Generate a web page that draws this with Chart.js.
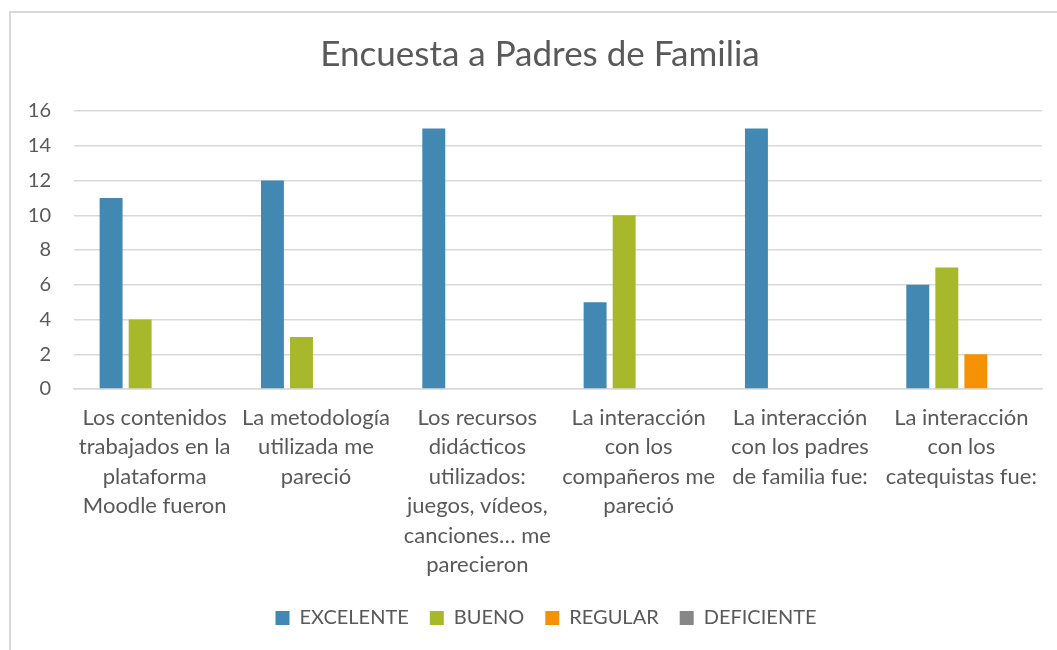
<!DOCTYPE html>
<html>
<head>
<meta charset="utf-8">
<script src="https://cdn.jsdelivr.net/npm/chart.js@4"></script>
<style>
  html, body { margin: 0; padding: 0; background: #ffffff; }
  #wrap { position: relative; width: 1057px; height: 650px; overflow: hidden; }
  #frame { position: absolute; left: 9px; top: 11px; width: 1200px; height: 800px;
           border: 2px solid #d9d9d9; box-sizing: border-box; }
  canvas { position: absolute; left: 0; top: 0; }
</style>
</head>
<body>
<div id="wrap">
  <div id="frame"></div>
  <canvas id="c" width="1057" height="650"></canvas>
</div>
<script>
const titleText = "Encuesta a Padres de Familia";
const categories = [
  ["Los contenidos", "trabajados en la", "plataforma", "Moodle fueron"],
  ["La metodología", "utilizada me", "pareció"],
  ["Los recursos", "didácticos", "utilizados:", "juegos, vídeos,", "canciones… me", "parecieron"],
  ["La interacción", "con los", "compañeros me", "pareció"],
  ["La interacción", "con los padres", "de familia fue:"],
  ["La interacción", "con los", "catequistas fue:"]
];
const seriesNames = ["EXCELENTE", "BUENO", "REGULAR", "DEFICIENTE"];
const excelente = [11, 12, 15, 5, 15, 6];
const bueno = [4, 3, 0, 10, 0, 7];
const regular = [0, 0, 0, 0, 0, 2];
const deficiente = [0, 0, 0, 0, 0, 0];
const yTicks = [0, 2, 4, 6, 8, 10, 12, 14, 16];

const colors = ["#4189B3", "#A7B82A", "#F59203", "#878787"];
const seriesValues = [excelente, bueno, regular, deficiente];
const FONT = "Lato";
const TEXT = "#595959";

// shifts the title and legend boxes sideways (the reference centres them a bit right)
const shiftBoxes = {
  id: "shiftBoxes",
  afterLayout(chart) {
    if (chart.titleBlock) { chart.titleBlock.left += 19; chart.titleBlock.right += 19; }
    if (chart.legend) { chart.legend.left += 25; chart.legend.right += 25; }
  }
};

new Chart(document.getElementById("c"), {
  type: "bar",
  data: {
    labels: categories,
    datasets: seriesNames.map((n, i) => ({
      label: n,
      data: seriesValues[i],
      backgroundColor: colors[i],
      borderWidth: 0,
      categoryPercentage: 0.72,
      barPercentage: 0.79
    }))
  },
  plugins: [shiftBoxes],
  options: {
    responsive: false,
    animation: false,
    layout: { padding: { left: 0, right: 15, top: 0, bottom: 12 } },
    plugins: {
      title: {
        display: true,
        text: titleText,
        color: TEXT,
        font: { family: FONT, size: 35, weight: "normal", lineHeight: 1.2 },
        padding: { top: 34, bottom: 35 }
      },
      legend: {
        position: "bottom",
        labels: {
          color: TEXT,
          font: { family: FONT, size: 20 },
          boxWidth: 14,
          boxHeight: 14,
          padding: 21
        }
      },
      tooltip: { enabled: false }
    },
    scales: {
      x: {
        afterFit: (s) => { s.height = 198; },
        grid: { display: false, drawTicks: false },
        border: { display: true, color: "#d9d9d9", width: 1.5 },
        ticks: {
          color: TEXT,
          font: { family: FONT, size: 22, lineHeight: 1.34 },
          padding: 14,
          autoSkip: false,
          maxRotation: 0,
          minRotation: 0
        }
      },
      y: {
        min: 0,
        max: 16,
        afterBuildTicks: (s) => { s.ticks = yTicks.map(v => ({ value: v })); },
        afterFit: (s) => { s.width = 74; },
        grid: { color: "#d9d9d9", lineWidth: 1.5, drawTicks: false },
        border: { display: false },
        ticks: {
          color: TEXT,
          font: { family: FONT, size: 20 },
          padding: 23
        }
      }
    }
  }
});
</script>
</body>
</html>
